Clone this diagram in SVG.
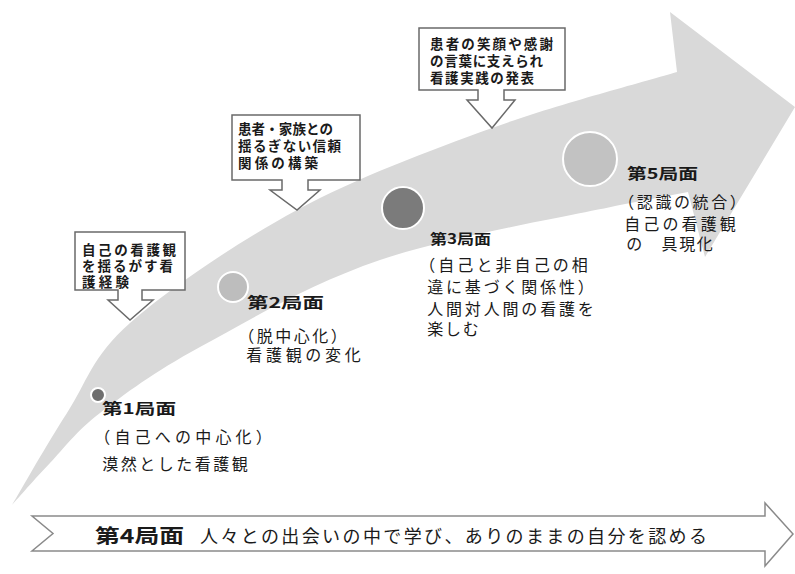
<svg xmlns="http://www.w3.org/2000/svg" width="795" height="574" viewBox="0 0 795 574">
<style>
text{font-family:"Noto Sans CJK JP","Noto Sans",sans-serif;fill:#1a1a1a}
.t{font-size:15px;font-weight:bold}
.d{font-size:16px}
.c{font-size:13.5px;font-weight:bold}
.call{fill:#fff;stroke:#6a6a6a;stroke-width:1.5}
.dot{stroke:#fff;stroke-width:2}
</style>
<rect width="795" height="574" fill="#fff"/>
<g id="band">
<path fill="#d9d9d9" d="M12,505 C21.2,489.7 47.3,443.3 67,413 C86.7,382.7 91.7,356.8 130,323 C168.3,289.2 236.7,242.5 297,210 C357.3,177.5 428.7,151 492,128 C555.3,105 646.2,81.3 677,72 L670,12 L795,107 L705,257 L688,192 L620,205 C568.7,216.3 450,236.3 380,260 C310,283.7 246.7,321.5 200,347 C153.3,372.5 125,393.7 100,413 C75,432.3 64.7,447.7 50,463 C35.3,478.3 18.3,498 12,505 Z"/>
</g>
<g id="connectors">
<path class="call" d="M419,28 H565 V90 H504 V100 H515 L492,128 L467,100 H478 V90 H419 Z"/>
<path class="call" d="M232,115 H360 V180 H308 V190 H320 L297,210 L270,190 H282 V180 H232 Z"/>
<path class="call" d="M75,232 H185 V290 H142 V300 H153 L130,320 L108,300 H118 V290 H75 Z"/>
</g>
<g id="callout1">
<text class="c" x="430" y="49" textLength="123">患者の笑顔や感謝</text>
<text class="c" x="430" y="66" textLength="113">の言葉に支えられ</text>
<text class="c" x="430" y="83" textLength="104">看護実践の発表</text>
</g>
<g id="callout2">
<text class="c" x="238" y="134" textLength="95">患者・家族との</text>
<text class="c" x="238" y="151" textLength="103">揺るぎない信頼</text>
<text class="c" x="238" y="168" textLength="80">関係の構築</text>
</g>
<g id="callout3">
<text class="c" x="82" y="255" textLength="94">自己の看護観</text>
<text class="c" x="82" y="271" textLength="91">を揺るがす看</text>
<text class="c" x="82" y="287" textLength="47">護経験</text>
</g>
<g id="phase1">
<circle class="dot" cx="98" cy="395" r="7" fill="#6e6e6e" stroke-width="1"/>
<text class="t" x="102" y="414" textLength="74" lengthAdjust="spacingAndGlyphs">第1局面</text>
<text class="d" x="94.2" y="443" textLength="177.6">（自己への中心化）</text>
<text class="d" x="102.2" y="470" textLength="145.6">漠然とした看護観</text>
</g>
<g id="phase2">
<circle class="dot" cx="233" cy="287" r="15" fill="#bdbdbd"/>
<text class="t" x="247" y="308" textLength="77" lengthAdjust="spacingAndGlyphs">第2局面</text>
<text class="d" x="238.2" y="342" textLength="108.6">（脱中心化）</text>
<text class="d" x="246.2" y="361" textLength="114.6">看護観の変化</text>
</g>
<g id="phase3">
<circle class="dot" cx="403" cy="208" r="21" fill="#7b7b7b"/>
<text class="t" x="430" y="244" textLength="61" lengthAdjust="spacingAndGlyphs" style="font-size:14px">第3局面</text>
<text class="d" x="419.2" y="271" textLength="168.6">（自己と非自己の相</text>
<text class="d" x="427.2" y="293" textLength="166.6">違に基づく関係性）</text>
<text class="d" x="427.2" y="315" textLength="166.6">人間対人間の看護を</text>
<text class="d" x="427.2" y="335" textLength="51.6">楽しむ</text>
</g>
<g id="phase5">
<circle class="dot" cx="590" cy="159" r="27" fill="#c2c2c2"/>
<text class="t" x="627" y="179" textLength="71" lengthAdjust="spacingAndGlyphs">第5局面</text>
<text class="d" x="618.2" y="208" textLength="127.6">（認識の統合）</text>
<text class="d" x="624.2" y="230" textLength="111.6">自己の看護観</text>
<text class="d" x="626.2" y="250" textLength="86.6">の　具現化</text>
</g>
<g id="phase4">
<path fill="#fff" stroke="#8a8a8a" stroke-width="1.5" d="M32,516 H765 V503 L793,534 L765,566 V551 H32 L53,533.5 Z"/>
<text x="95" y="543" style="font-size:19px;font-weight:bold" textLength="89" lengthAdjust="spacingAndGlyphs">第4局面</text>
<text x="200" y="543" style="font-size:18px" textLength="507">人々との出会いの中で学び、ありのままの自分を認める</text>
</g>
</svg>
